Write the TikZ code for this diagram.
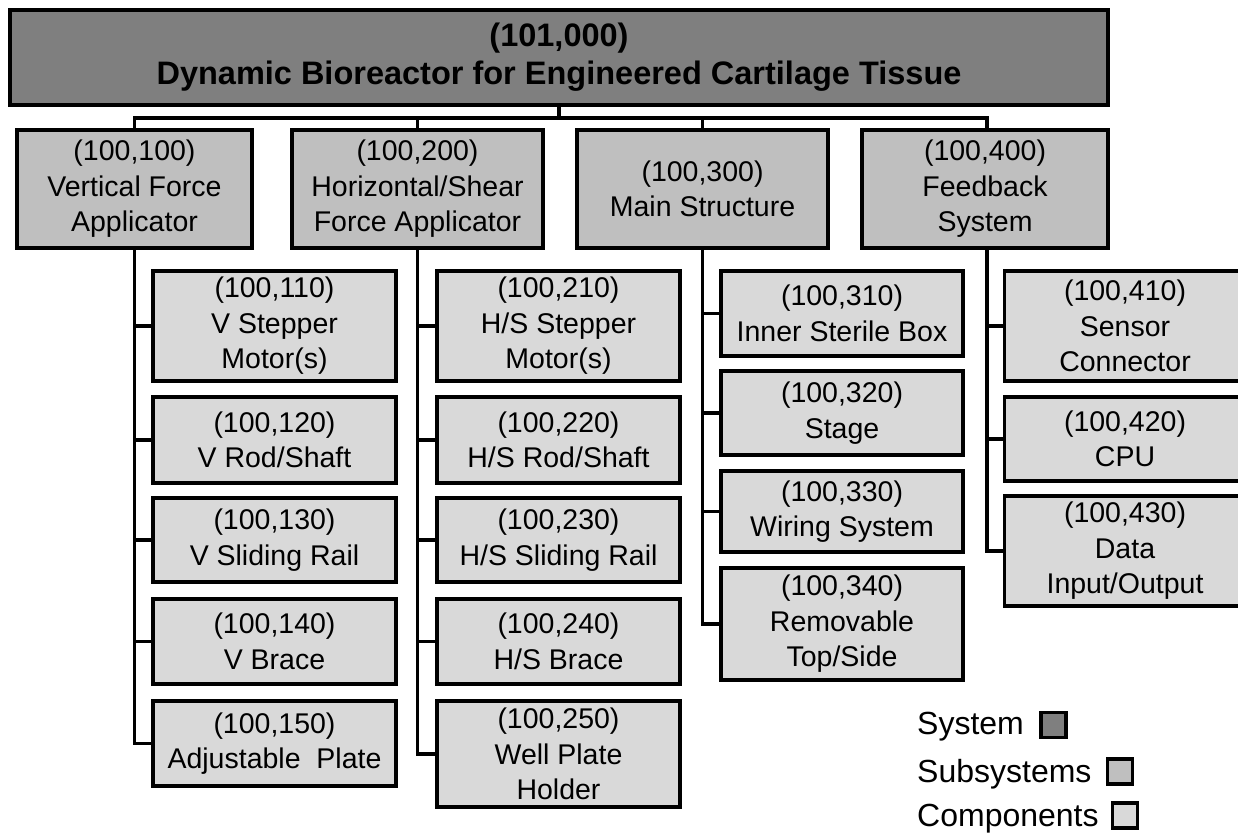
\documentclass[tikz,border=0pt]{standalone}
\usepackage{fontspec}
\setmainfont{Liberation Sans}
\definecolor{sysgray}{HTML}{7F7F7F}
\definecolor{subgray}{HTML}{BFBFBF}
\definecolor{compgray}{HTML}{D9D9D9}
\tikzset{
  box/.style={draw=black, line width=3.6pt, rectangle, align=center, inner sep=0pt,
    font=\fontsize{28.5}{35.5}\selectfont, text=black},
  sysbox/.style={box, fill=sysgray, font=\fontsize{32.5}{38}\selectfont\bfseries},
  subbox/.style={box, fill=subgray},
  compbox/.style={box, fill=compgray},
  conn/.style={draw=black, line width=3.6pt},
  legtext/.style={anchor=west, inner sep=0pt, font=\fontsize{32}{36}\selectfont},
  legbox/.style={draw=black, line width=3.6pt, minimum size=25pt, inner sep=0pt},
}
\newcommand{\bx}[6]{\node[#1, minimum width=#4pt, minimum height=#5pt] (#2) at #3 {#6};}
\begin{document}
\begin{tikzpicture}[x=1pt, y=-1pt]
\useasboundingbox (0,0) rectangle (1238,835);
\fill[white] (0,0) rectangle (1238,835);

% system
\bx{sysbox}{top}{(559,57.5)}{1098}{95}{(101,000)\\Dynamic Bioreactor for Engineered Cartilage Tissue}

% subsystems
\bx{subbox}{s1}{(134.5,189)}{235}{118}{(100,100)\\Vertical Force\\Applicator}
\bx{subbox}{s2}{(417.5,189)}{251}{118}{(100,200)\\Horizontal/Shear\\Force Applicator}
\bx{subbox}{s3}{(702.5,189)}{251}{118}{(100,300)\\Main Structure}
\bx{subbox}{s4}{(985,189)}{246}{118}{(100,400)\\Feedback\\System}

% components col 1
\bx{compbox}{c110}{(274.5,326)}{243}{110}{(100,110)\\V Stepper\\Motor(s)}
\bx{compbox}{c120}{(274.5,440)}{243}{86}{(100,120)\\V Rod/Shaft}
\bx{compbox}{c130}{(274.5,540)}{243}{84}{(100,130)\\V Sliding Rail}
\bx{compbox}{c140}{(274.5,641.5)}{243}{85}{(100,140)\\V Brace}
\bx{compbox}{c150}{(274.5,743.5)}{243}{85}{(100,150)\\Adjustable\ \ Plate}

% components col 2
\bx{compbox}{c210}{(558.5,326)}{243}{110}{(100,210)\\H/S Stepper\\Motor(s)}
\bx{compbox}{c220}{(558.5,440)}{243}{86}{(100,220)\\H/S Rod/Shaft}
\bx{compbox}{c230}{(558.5,540)}{243}{84}{(100,230)\\H/S Sliding Rail}
\bx{compbox}{c240}{(558.5,641.5)}{243}{85}{(100,240)\\H/S Brace}
\bx{compbox}{c250}{(558.5,754)}{243}{106}{(100,250)\\Well Plate\\Holder}

% components col 3
\bx{compbox}{c310}{(842,313.5)}{242}{85}{(100,310)\\Inner Sterile Box}
\bx{compbox}{c320}{(842,413)}{242}{84}{(100,320)\\Stage}
\bx{compbox}{c330}{(842,511.5)}{242}{81}{(100,330)\\Wiring System}
\bx{compbox}{c340}{(842,624)}{242}{112}{(100,340)\\Removable\\Top/Side}

% components col 4
\bx{compbox}{c410}{(1125,326)}{241}{110}{(100,410)\\Sensor\\Connector}
\bx{compbox}{c420}{(1125,439)}{241}{84}{(100,420)\\CPU}
\bx{compbox}{c430}{(1125,551)}{241}{110}{(100,430)\\Data\\Input/Output}

% top connectors
\coordinate (bus) at (559,118);
\draw[conn] (top.south) -- (bus);
\draw[conn] (s1.north) -- (s1.north |- bus) -- (987,118) -- (987,130);
\draw[conn] (s2.north) -- (s2.north |- bus);
\draw[conn] (s3.north) -- (s3.north |- bus);

% branch connectors
\draw[conn] (s1.south) |- (c150.west);
\foreach \c in {c110,c120,c130,c140} \draw[conn] (s1.south |- \c.west) -- (\c.west);
\draw[conn] (s2.south) |- (c250.west);
\foreach \c in {c210,c220,c230,c240} \draw[conn] (s2.south |- \c.west) -- (\c.west);
\draw[conn] (s3.south) |- (c340.west);
\foreach \c in {c310,c320,c330} \draw[conn] (s3.south |- \c.west) -- (\c.west);
\coordinate (t4) at (987,248);
\draw[conn] (t4) |- (c430.west);
\foreach \c in {c410,c420} \draw[conn] (t4 |- \c.west) -- (\c.west);

% legend
\node[legtext] (lsys) at (917,727) {System};
\node[legbox, fill=sysgray] (qsys) at (1053.5,725) {};
\node[legtext] (lsub) at (917,774) {Subsystems};
\node[legbox, fill=subgray] (qsub) at (1120,771.5) {};
\node[legtext] (lcomp) at (917,819) {Components};
\node[legbox, fill=compgray] (qcomp) at (1125,815.5) {};
\end{tikzpicture}
\end{document}
